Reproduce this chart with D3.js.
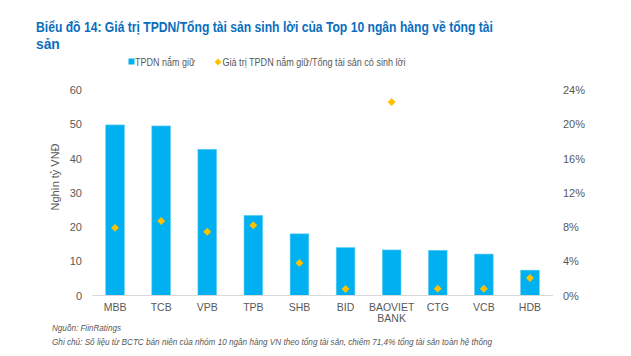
<!DOCTYPE html>
<html><head><meta charset="utf-8">
<script src="https://cdn.jsdelivr.net/npm/d3@7"></script>
<style>body{margin:0;background:#fff;}svg{display:block;font-family:"Liberation Sans",Arial,sans-serif;}</style>
</head><body>
<svg id="c" width="631" height="356"></svg>
<script>
const categories = ["MBB","TCB","VPB","TPB","SHB","BID","BAOVIET\nBANK","CTG","VCB","HDB"];
const holdings = [49.8,49.5,42.7,23.4,18.0,14.0,13.3,13.2,12.1,7.4];
const ratio = [7.9,8.7,7.45,8.2,3.8,0.75,22.6,0.8,0.78,2.05];
const leftTicks = [0,10,20,30,40,50,60];
const rightTicks = [0,4,8,12,16,20,24];
const titleLines = ["Biểu đồ 14: Giá trị TPDN/Tổng tài sản sinh lời của Top 10 ngân hàng về tổng tài","sản"];
const legendLabels = ["TPDN nắm giữ","Giá trị TPDN nắm giữ/Tổng tài sản có sinh lời"];
const yLabel = "Nghìn tỷ VNĐ";
const sourceText = "Nguồn: FiinRatings";
const noteText = "Ghi chú: Số liệu từ BCTC bán niên của nhóm 10 ngân hàng VN theo tổng tài sản, chiếm 71,4% tổng tài sản toàn hệ thống";

const svg = d3.select("#c");
const m = {l:92, r:553, t:90, b:295.5};
const x = d3.scaleBand().domain(categories).range([m.l,m.r]).paddingInner(0.595).paddingOuter(0.2975);
const y = d3.scaleLinear().domain([0,60]).range([m.b,m.t]);
const y2 = d3.scaleLinear().domain([0,24]).range([m.b,m.t]);
const textCol = "#595959";

// title
svg.append("g").selectAll("text").data(titleLines).join("text")
  .attr("x",36).attr("y",(d,i)=>31.5+i*17)
  .attr("font-size",13.8).attr("font-weight","bold").attr("fill","#0A6EBD")
  .attr("textLength",(d,i)=>i===0?457:null).attr("lengthAdjust","spacingAndGlyphs")
  .text(d=>d);

// legend
const lg = svg.append("g").attr("font-size",10).attr("fill",textCol);
lg.append("rect").attr("x",128.5).attr("y",58.5).attr("width",6).attr("height",6).attr("fill","#00B0F0");
lg.append("text").attr("x",135).attr("y",65.5).attr("fill",textCol)
  .attr("textLength",60).attr("lengthAdjust","spacingAndGlyphs").text(legendLabels[0]);
lg.append("path").attr("d",d3.symbol(d3.symbolDiamond2,30)()).attr("transform","translate(218,62)").attr("fill","#FFC000");
lg.append("text").attr("x",222.5).attr("y",65.5).attr("fill",textCol)
  .attr("textLength",183).attr("lengthAdjust","spacingAndGlyphs").text(legendLabels[1]);

// bars
svg.append("g").selectAll("rect").data(holdings).join("rect")
  .attr("x",(d,i)=>x(categories[i])).attr("width",x.bandwidth())
  .attr("y",d=>y(d)).attr("height",d=>y(0)-y(d))
  .attr("fill","#00B0F0").attr("stroke","#5FCDF4").attr("stroke-width",0.6);

// axis line
svg.append("line").attr("x1",m.l).attr("x2",m.r).attr("y1",m.b).attr("y2",m.b)
  .attr("stroke","#D9D9D9").attr("stroke-width",1.2);

// diamonds
svg.append("g").selectAll("path").data(ratio).join("path")
  .attr("d",d3.symbol(d3.symbolDiamond2,40)())
  .attr("transform",(d,i)=>`translate(${x(categories[i])+x.bandwidth()/2},${y2(d)})`)
  .attr("fill","#FFC000");

// left axis
const la = svg.append("g").attr("transform",`translate(82,0)`)
  .call(d3.axisLeft(y).tickValues(leftTicks).tickSize(0).tickPadding(0));
la.select(".domain").remove();
la.selectAll("text").attr("font-size",11).attr("fill",textCol).attr("font-family","Liberation Sans, Arial, sans-serif");

// right axis
const ra = svg.append("g").attr("transform",`translate(563,0)`)
  .call(d3.axisRight(y2).tickValues(rightTicks).tickFormat(d=>d+"%").tickSize(0).tickPadding(0));
ra.select(".domain").remove();
ra.selectAll("text").attr("font-size",11).attr("fill",textCol).attr("font-family","Liberation Sans, Arial, sans-serif");

// x labels
const xl = svg.append("g").attr("font-size",10.5).attr("fill",textCol).attr("text-anchor","middle");
categories.forEach(c=>{
  const t = xl.append("text").attr("x",x(c)+x.bandwidth()/2).attr("y",310.5).attr("fill",textCol);
  c.split("\n").forEach((s,i)=>t.append("tspan").attr("x",x(c)+x.bandwidth()/2).attr("dy",i?11.5:0).text(s));
});

// y label
svg.append("text").attr("transform","translate(58.5,177) rotate(-90)")
  .attr("text-anchor","middle").attr("font-size",10.5).attr("fill",textCol)
  .attr("textLength",67).attr("lengthAdjust","spacingAndGlyphs").text(yLabel);

// source & note
svg.append("text").attr("x",52).attr("y",331).attr("font-size",9.5).attr("font-style","italic").attr("fill",textCol)
  .attr("textLength",69).attr("lengthAdjust","spacingAndGlyphs").text(sourceText);
svg.append("text").attr("x",52).attr("y",345).attr("font-size",9.5).attr("font-style","italic").attr("fill",textCol)
  .attr("textLength",440).attr("lengthAdjust","spacingAndGlyphs").text(noteText);
</script>
</body></html>
